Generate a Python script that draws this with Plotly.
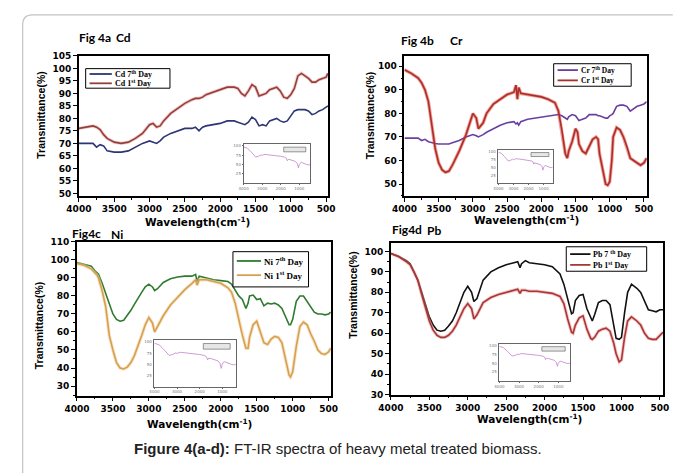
import plotly.graph_objects as go

W, H = 676, 473

# ---------------- data ----------------
wn_a = [4000,3900,3800,3750,3700,3650,3600,3500,3400,3300,3200,3100,3000,2950,2900,2850,2800,2700,2600,2500,2400,2350,2300,2250,2200,2100,2000,1900,1800,1750,1700,1650,1600,1550,1500,1450,1400,1350,1300,1250,1200,1150,1100,1050,1000,950,900,850,800,750,700,650,600,550,500,475]
cd_7th = [70,70,70,68.5,69.5,69,67,66.5,66.5,67,68.5,70,71,70.5,70,71,72.5,74,75,76,76,76.5,75,76.5,77,77.5,78,79,79,78.5,78,77.5,78.5,80.5,79.5,77,77.5,77,79,79.5,80,79,78.5,79,81,83,83.5,83.5,83.5,83,81.5,82,83,83.5,84.5,85]
cd_1st = [76,76.5,77,76.5,75.5,73.5,72,70.5,70,70.5,72,74,77.5,78,76.5,77,79,82,84,86,87.5,88,88,88.5,89.5,90.5,91.5,92.5,92.5,92,90,89,91,93.5,92.5,89,89.5,90,91.5,92,92.5,91,88.5,88,89.5,92,97,98,97,96,94.5,94.5,95.5,96,96.5,98]

wn_b = [4000,3900,3800,3750,3700,3650,3600,3550,3500,3450,3400,3350,3300,3200,3100,3050,3000,2950,2920,2850,2800,2700,2600,2500,2400,2370,2350,2330,2300,2200,2100,2000,1900,1800,1750,1700,1650,1620,1600,1550,1500,1470,1450,1400,1350,1300,1250,1200,1170,1150,1100,1060,1030,1000,970,950,900,850,800,750,700,650,600,550,500,460]
cr_7th = [69.5,69.5,69.5,68.5,69,68,67.5,67.2,67,67,67,67,67.5,68.5,70,70.5,71,70.5,70,71,72,73.5,75,76,76.5,75.5,76,75,76.5,77.5,78,78.5,79,79.5,79.5,79,78,77.5,78.5,79.5,79,78,77,77.5,78,79.5,79.5,79.5,79,79,78.5,78,78,79,79.5,80,83,83.5,83.5,83,81,82,83,83.5,84,85]
cr_1st = [98.5,97,95,93,90,85,75,65,59,56,55,55.5,58,64,71,76,80,78,73.5,76,80,84,86,88,89,92,86,91,88.5,88,87.5,87,86,84.5,81,73,63,61,64,68,73.5,72,67,64,63,66,69,70,69,63,55,50,49.5,51,60,70,74,73,70,66,61,60,59,58,59,61]

wn_c = [4000,3900,3800,3750,3720,3700,3650,3600,3550,3500,3450,3400,3350,3300,3250,3200,3150,3100,3050,3000,2950,2920,2880,2800,2700,2600,2500,2400,2350,2330,2300,2200,2100,2000,1900,1850,1800,1750,1700,1650,1620,1600,1550,1500,1450,1400,1350,1300,1250,1200,1150,1100,1050,1030,1000,950,900,850,800,750,700,650,600,550,500,470]
ni_7th = [98.5,97.5,96.5,94,93,92,87,81,75,70,67,66,66.5,69,72,75.5,79,82,85,86.5,85,83,84,87.5,89.5,90.5,91,91,92,88,91,90,89,88.5,88,86.5,83,80,78,73,76,80,80.5,78,78.5,74.5,76,75.5,76,75,73,68,64,64,67,77,80,80,77,74,71,70,70,69.5,70,71]
ni_1st = [98,97,95,93,91.5,90,83,74,58,50,43,40,39.5,40.5,43,47,52,58,64,68,65,60,63,69,75,79.5,83.5,87,89,86,89,89,88,87,84.5,82,76,67,58,51,51,57,64,66,60,54,53,56,57.5,57,54,45,36,35,38,52,63,65.5,64,59,55,50,48,47.5,49,51]

wn_d = [4000,3900,3800,3750,3700,3650,3600,3550,3500,3450,3400,3350,3300,3250,3200,3150,3100,3050,3000,2950,2920,2880,2800,2700,2600,2500,2400,2350,2320,2300,2250,2200,2100,2000,1900,1800,1750,1700,1650,1630,1600,1550,1500,1450,1400,1380,1350,1300,1250,1200,1150,1100,1070,1030,1000,960,920,870,850,800,750,700,650,600,550,500,460]
pb_7th = [99,97.5,95.5,94,90,86,80,74,68,64,61.5,61,61.5,63.5,66,70,75,80,83,80,75.5,77,86,90,92,93.5,94.5,95,92,94,95.5,94.5,94,93.5,92.5,89,84,76,69.5,70,76,78.5,79,72,67,66,69,75,76,76,74,63,57.5,57,58,70,80,84,83.5,82,80,76,71.5,71,70.5,71.5,71.5]
pb_1st = [99,97.5,95,93.5,90,86,79,72,66,61.5,59,58,58,59,61,64,68,72,74.5,72,67,69,75,77.5,79,80,81,81.5,79.5,81,81,80.5,80.5,80,79.5,78,74.5,67,60.5,60,64,67.5,68.5,62,57.5,57,58,61,62,62.5,61,55,50,46,47,58,66,68,67.5,66,64,60,57.5,57,57,59,60.5]

# inset spectrum (same small control plot in every panel)
inset_wn = [4000,3800,3600,3450,3350,3200,3050,3000,2950,2850,2600,2300,2000,1800,1700,1650,1600,1500,1400,1300,1200,1100,1050,1000,950,900,800,700,600,500,400]
inset_t = [97,94,84,74,70,72,76,74,76,77,76,74,72,70,67,60,64,63,61,60,58,52,41,50,55,56,54,51,50,49,50]

x_ticks = [4000,3500,3000,2500,2000,1500,1000,500]

panel_a_labels = ["Cd 7<sup>th</sup> Day", "Cd 1<sup>st</sup> Day"]
panel_b_labels = ["Cr 7<sup>th</sup> Day", "Cr 1<sup>st</sup> Day"]
panel_c_labels = ["Ni 7<sup>th</sup> Day", "Ni 1<sup>st</sup> Day"]
panel_d_labels = ["Pb 7 <sup>th</sup> Day", "Pb 1<sup>st</sup> Day"]

# ---------------- helpers (layout only) ----------------
def px(x):
    return x / W

def py(y):
    return 1 - y / H

TICKFONT = dict(family="DejaVu Sans", size=9, color="black", weight="bold")

def main_x(x0, x1, rng, anchor):
    return dict(domain=[px(x0), px(x1)], range=rng, tickvals=x_ticks, anchor=anchor,
                showline=True, mirror=True, linecolor="black", linewidth=1.5,
                ticks="outside", ticklen=4, tickwidth=1, tickcolor="black",
                minor=dict(dtick=250, tick0=0, ticks="outside", ticklen=2, tickcolor="black"),
                showgrid=False, zeroline=False, tickfont=TICKFONT, fixedrange=True)

def main_y(y0, y1, rng, tickvals, minor_dt, anchor):
    d = dict(domain=[py(y1), py(y0)], range=rng, tickvals=tickvals,
             showline=True, mirror=True, linecolor="black", linewidth=1.5,
             ticks="outside", ticklen=4, tickwidth=1, tickcolor="black",
             showgrid=False, zeroline=False, tickfont=TICKFONT, anchor=anchor, fixedrange=True)
    if minor_dt:
        d["minor"] = dict(dtick=minor_dt, tick0=0, ticks="outside", ticklen=2, tickcolor="black")
    return d

INSET_FONT = dict(family="DejaVu Sans", size=4, color="#777")

def inset_x(x0, x1, anchor):
    return dict(domain=[px(x0), px(x1)], range=[4000, 400], tickvals=[4000, 3000, 2000, 1000],
                showline=True, mirror=True, linecolor="#666", linewidth=0.7, anchor=anchor,
                ticks="outside", ticklen=1, tickcolor="#666",
                showgrid=False, zeroline=False, tickfont=INSET_FONT, fixedrange=True)

def inset_y(y0, y1, anchor):
    return dict(domain=[py(y1), py(y0)], range=[0, 105], tickvals=[25, 50, 75, 100],
                showline=True, mirror=True, linecolor="#666", linewidth=0.7,
                ticks="outside", ticklen=1, tickcolor="#666",
                showgrid=False, zeroline=False, anchor=anchor,
                tickfont=INSET_FONT, fixedrange=True)

fig = go.Figure()

def add(xs, ys, color, xa, ya, width=1.6, halo=None):
    if halo:
        fig.add_trace(go.Scatter(x=xs, y=ys, mode="lines", showlegend=False, hoverinfo="skip",
                                 line=dict(color=halo, width=3.4), xaxis=xa, yaxis=ya))
    fig.add_trace(go.Scatter(x=xs, y=ys, mode="lines", showlegend=False,
                             line=dict(color=color, width=width),
                             xaxis=xa, yaxis=ya))

COL = {"cd7": "#2d3575", "cd1": "#93403c", "cr7": "#6a3fa0", "cr1": "#a8302a",
       "ni7": "#2f7a2f", "ni1": "#d6a050", "pb7": "#111111", "pb1": "#a83838"}

add(wn_a, cd_7th, COL["cd7"], "x", "y")
add(wn_a, cd_1st, COL["cd1"], "x", "y", halo="rgba(230,140,140,0.45)")
add(wn_b, cr_7th, COL["cr7"], "x2", "y2")
add(wn_b, cr_1st, COL["cr1"], "x2", "y2", halo="rgba(235,60,50,0.5)")
add(wn_c, ni_7th, COL["ni7"], "x3", "y3")
add(wn_c, ni_1st, COL["ni1"], "x3", "y3", halo="rgba(240,200,140,0.5)")
add(wn_d, pb_7th, COL["pb7"], "x4", "y4")
add(wn_d, pb_1st, COL["pb1"], "x4", "y4", halo="rgba(235,130,130,0.45)")

for i in range(5, 9):
    fig.add_trace(go.Scatter(x=inset_wn, y=inset_t, mode="lines", showlegend=False,
                             line=dict(color="#c98fd0", width=0.9),
                             xaxis=f"x{i}", yaxis=f"y{i}"))

layout = dict(
    width=W, height=H, margin=dict(l=0, r=0, t=0, b=0), showlegend=False,
    paper_bgcolor="white", plot_bgcolor="white",
    xaxis=main_x(68, 325, [4000, 475], "y"),
    yaxis=main_y(52, 195, [49, 105], list(range(50, 106, 5)), None, "x"),
    xaxis2=main_x(404, 654, [4000, 460], "y2"),
    yaxis2=main_y(52, 195, [45, 104.4], list(range(50, 101, 10)), 5, "x2"),
    xaxis3=main_x(66, 328, [4000, 470], "y3"),
    yaxis3=main_y(242, 399, [24.7, 110], list(range(30, 111, 10)), 5, "x3"),
    xaxis4=main_x(390, 671, [4000, 458], "y4"),
    yaxis4=main_y(243, 398, [30, 104.2], list(range(30, 101, 10)), 5, "x4"),
    xaxis5=inset_x(238, 307, "y5"), yaxis5=inset_y(142, 182, "x5"),
    xaxis6=inset_x(501, 557, "y6"), yaxis6=inset_y(148, 182, "x6"),
    xaxis7=inset_x(146, 230, "y7"), yaxis7=inset_y(342, 390, "x7"),
    xaxis8=inset_x(502, 575, "y8"), yaxis8=inset_y(346, 384, "x8"),
)
fig.update_layout(**layout)

shapes = []
ann = []

# outer rounded frame
x0, y0, r = 10, 10, 10
path = (f"M {px(x0)},{py(H + 5)} L {px(x0)},{py(y0 + r)} "
        f"Q {px(x0)},{py(y0)} {px(x0 + r)},{py(y0)} L {px(W + 5)},{py(y0)}")
shapes.append(dict(type="path", path=path, xref="paper", yref="paper",
                   line=dict(color="#c4c4c4", width=1.2)))

# inset legend boxes
for i in range(5, 9):
    shapes.append(dict(type="rect", xref=f"x{i} domain", yref=f"y{i} domain",
                       x0=0.6, x1=0.93, y0=0.8, y1=0.92,
                       line=dict(color="#555", width=0.6), fillcolor="#e6e6e6"))

# legends (box, line sample, label)
def legend(bx0, by0, bx1, by1, rows, lx0, lx1, tx, labels, colors, fsize):
    shapes.append(dict(type="rect", xref="paper", yref="paper",
                       x0=px(bx0), x1=px(bx1), y0=py(by1), y1=py(by0),
                       line=dict(color="black", width=1), fillcolor="white"))
    for ry, lab, c in zip(rows, labels, colors):
        shapes.append(dict(type="line", xref="paper", yref="paper",
                           x0=px(lx0), x1=px(lx1), y0=py(ry), y1=py(ry),
                           line=dict(color=c, width=1.8)))
        ann.append(dict(text=lab, x=px(tx), y=py(ry), xref="paper", yref="paper",
                        xanchor="left", yanchor="middle", showarrow=False,
                        font=dict(family="Liberation Serif", size=fsize, color="black", weight="bold")))

legend(75, 65, 162, 85, [70.5, 80], 79, 102, 103, panel_a_labels, [COL["cd7"], COL["cd1"]], 8)
legend(558, 60, 638, 83, [66.5, 77], 562, 583, 584, panel_b_labels, [COL["cr7"], COL["cr1"]], 7.5)
legend(227, 252, 305, 288, [261.5, 276], 231, 256, 257, panel_c_labels, [COL["ni7"], COL["ni1"]], 9)
legend(571, 247, 654, 272, [254.5, 265.5], 575, 596, 597, panel_d_labels, [COL["pb7"], COL["pb1"]], 8)

# panel titles
title_font = dict(family="Lato", size=12, color="black", weight="bold")
for txt, x, y in [("Fig 4a", 66, 33), ("Cd", 104, 33),
                  ("Fig 4b", 398, 36), ("Cr", 449, 36),
                  ("Fig4c", 59, 233), ("Ni", 99, 234),
                  ("Fig4d", 389, 229), ("Pb", 425, 230)]:
    ann.append(dict(text=txt, x=px(x), y=py(y), xref="paper", yref="paper",
                    xanchor="left", yanchor="middle", showarrow=False, font=title_font))

xt_font = dict(family="DejaVu Sans", size=10.5, color="black", weight="bold")
for x, y in [(190, 221), (530, 219), (192, 428), (533, 422)]:
    ann.append(dict(text="Wavelength(cm<sup>-1</sup>)", x=px(x), y=py(y), xref="paper", yref="paper",
                    xanchor="center", yanchor="middle", showarrow=False, font=xt_font))

yt_font = dict(family="Liberation Sans Narrow, Liberation Sans", size=10.5, color="black", weight="bold")
for x, y in [(29, 112), (368, 113), (27, 327), (351, 296)]:
    ann.append(dict(text="Transmittance(%)", x=px(x), y=py(y), xref="paper", yref="paper",
                    textangle=-90, xanchor="center", yanchor="middle", showarrow=False, font=yt_font))

ann.append(dict(text="<b>Figure 4(a-d):</b> FT-IR spectra of heavy metal treated biomass.",
                x=px(335), y=py(453), xref="paper", yref="paper", xanchor="center", yanchor="middle",
                showarrow=False, font=dict(family="Liberation Sans", size=15, color="#222")))

fig.update_layout(shapes=shapes, annotations=ann)

fig.write_html("out.html")
